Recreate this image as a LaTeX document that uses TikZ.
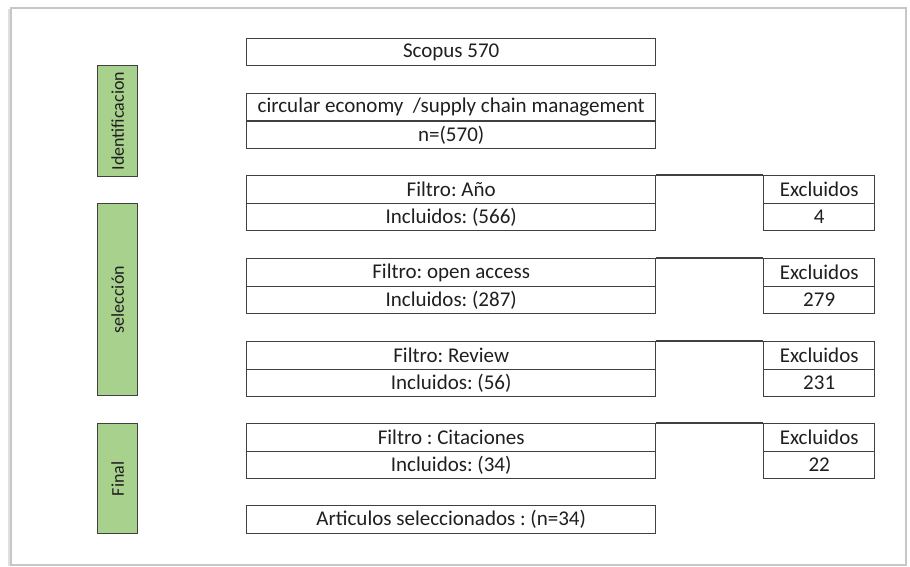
\documentclass[tikz,border=0pt]{standalone}
\usepackage{fontspec}
\setmainfont{Carlito}
\frenchspacing
\begin{document}
\definecolor{boxline}{HTML}{404040}
\definecolor{txt}{HTML}{1F1F1F}
\definecolor{phase}{HTML}{A9D18E}
\begin{tikzpicture}[x=1pt,y=-1pt,
  cell/.style={draw=boxline, line width=1.4pt, inner sep=0pt, anchor=north west,
    minimum height=27.5pt, text=txt, font=\fontsize{21}{24}\selectfont},
  wide/.style={cell, minimum width=409pt},
  narrow/.style={cell, minimum width=111pt},
  phasebox/.style={draw=boxline, fill=phase, line width=1.4pt, inner sep=0pt,
    anchor=north west, minimum width=40pt, text=txt,
    font=\fontsize{18}{20}\selectfont},
  link/.style={draw=boxline, line width=1.4pt}]
\useasboundingbox (0,0) rectangle (910,567);
% page frame with a soft shadow on its left side
\fill[white] (11,8) rectangle (906,565);
\draw[black!12, line width=3pt] (9,9) -- (9,566);
\draw[black!22, line width=1.2pt] (11,8) rectangle (906,565);

% phase labels
\node[phasebox, minimum height=111pt] (pid) at (97,65)
  {\rotatebox{90}{Identificacion}};
\node[phasebox, minimum height=192pt] (psel) at (97,203)
  {\rotatebox{90}{selección}};
\node[phasebox, minimum height=110pt] (pfin) at (97,423)
  {\rotatebox{90}{Final}};

% identification
\node[wide, minimum height=27pt] (scopus) at (246,38) {Scopus 570};
\node[wide] (query) at (246,93) {circular economy \ /supply chain management};
\node[wide] (queryn) at (246,120.5) {n=(570)};

% filters: included on the left, excluded on the right
\node[wide] (f1) at (246,175) {Filtro: Año};
\node[wide] (i1) at (246,202.5) {Incluidos: (566)};
\node[narrow] (e1) at (763,175) {Excluidos};
\node[narrow] (n1) at (763,202.5) {4};

\node[wide] (f2) at (246,258) {Filtro: open access};
\node[wide] (i2) at (246,285.5) {Incluidos: (287)};
\node[narrow] (e2) at (763,258) {Excluidos};
\node[narrow] (n2) at (763,285.5) {279};

\node[wide] (f3) at (246,341) {Filtro: Review};
\node[wide] (i3) at (246,368.5) {Incluidos: (56)};
\node[narrow] (e3) at (763,341) {Excluidos};
\node[narrow] (n3) at (763,368.5) {231};

\node[wide] (f4) at (246,423) {Filtro : Citaciones};
\node[wide] (i4) at (246,450.5) {Incluidos: (34)};
\node[narrow] (e4) at (763,423) {Excluidos};
\node[narrow] (n4) at (763,450.5) {22};

\node[wide, minimum height=28pt] (final) at (246,505) {Articulos seleccionados : (n=34)};

% top edges joining each filter to its excluded count
\draw[link] (f1.north east) -- (e1.north west);
\draw[link] (f2.north east) -- (e2.north west);
\draw[link] (f3.north east) -- (e3.north west);
\draw[link] (f4.north east) -- (e4.north west);
\end{tikzpicture}
\end{document}
